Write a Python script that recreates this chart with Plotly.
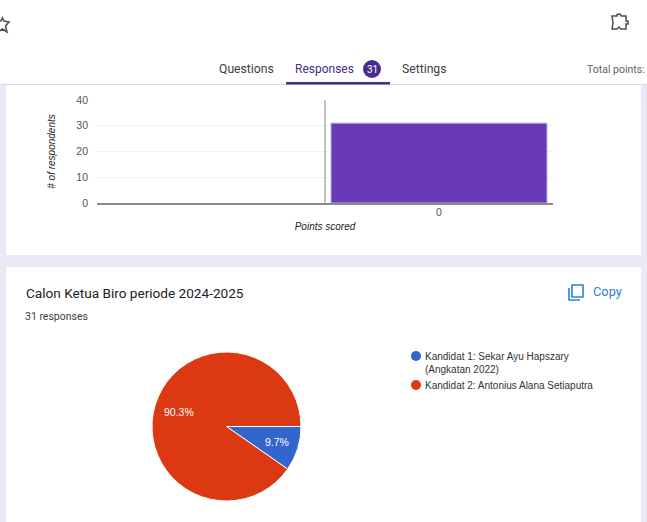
import plotly.graph_objects as go

W, H = 647, 522

# Data
bar_categories = [0]
bar_values = [31]
y_ticks = [0, 10, 20, 30, 40]
pie_labels = ["Kandidat 1: Sekar Ayu Hapszary (Angkatan 2022)", "Kandidat 2: Antonius Alana Setiaputra"]
pie_values = [3, 28]
pie_colors = ["#3366cc", "#dc3912"]


def px(x):
    return x / W


def py(y):
    return 1 - y / H


def path(points, close=True):
    s = "M " + " L ".join(f"{px(x):.5f},{py(y):.5f}" for x, y in points)
    return s + (" Z" if close else "")


fig = go.Figure()
fig.add_trace(go.Bar(x=bar_categories, y=bar_values, width=0.947, marker=dict(color="#673ab7", line=dict(color="#b9a3e0", width=1)),
                     showlegend=False, hoverinfo="skip"))
fig.add_trace(go.Pie(labels=pie_labels, values=pie_values, sort=False, direction="clockwise", rotation=90,
                     marker=dict(colors=pie_colors, line=dict(color="white", width=1)),
                     textinfo="none",
                     domain=dict(x=[px(152), px(301)], y=[py(501), py(352)]), showlegend=False, hoverinfo="skip"))

shapes = []


def rect(x0, y0, x1, y1, color, layer="below"):
    shapes.append(dict(type="rect", xref="paper", yref="paper", x0=px(x0), x1=px(x1), y0=py(y0), y1=py(y1),
                       fillcolor=color, line_width=0, layer=layer))


def circle(cx, cy, r, color, layer="above"):
    shapes.append(dict(type="circle", xref="paper", yref="paper", x0=px(cx - r), x1=px(cx + r), y0=py(cy - r), y1=py(cy + r),
                       fillcolor=color, line_width=0, layer=layer))


def poly(points, color, width=1.5, close=True, fill=None):
    shapes.append(dict(type="path", xref="paper", yref="paper", path=path(points, close),
                       line=dict(color=color, width=width), fillcolor=fill or "rgba(0,0,0,0)", layer="above"))


LAV = "#ece9f7"
rect(0, 85, W, H, LAV)
rect(6, 85, 641, 255, "white")
rect(6, 267, 641, H, "white")
rect(0, 84, W, 85, "#dadce0")
rect(286, 82, 390, 84.5, "#4a2a8c", "above")
circle(372, 69, 9, "#4a2a8c")
circle(416, 356, 5, pie_colors[0])
circle(416, 385, 5, pie_colors[1])
# axis lines
shapes.append(dict(type="line", xref="x", yref="y", x0=-0.5, x1=-0.5, y0=0, y1=40, line=dict(color="#8a8a8a", width=1), layer="above"))
# star
poly([(-4, 21), (1, 21), (2.5, 18), (4, 21), (9, 22), (5.5, 26), (7, 32), (2.5, 29), (-2, 32)], "#4a4d52")
# puzzle icon
poly([(612, 16), (617, 16), (617, 14.5), (620, 14), (621, 16), (626, 16), (626, 21), (628, 21), (628, 24), (626, 24), (626, 29),
      (621, 29), (619, 27), (617, 29), (612, 29), (613, 23), (612, 16)], "#4a4d52")
# copy icon
poly([(572, 285), (583, 285), (583, 297), (572, 297)], "#2f7de1", 1.6)
poly([(569, 288), (569, 300), (580, 300)], "#2f7de1", 1.6, close=False)

annotations = []


def text(x, y, s, size=11, color="#202124", family="Roboto", anchor="left", italic=False, angle=0):
    annotations.append(dict(xref="paper", yref="paper", x=px(x), y=py(y), text=s, showarrow=False, xanchor=anchor, yanchor="middle",
                            borderpad=0, borderwidth=0,
                            font=dict(family=family, size=size, color=color, style="italic" if italic else "normal"),
                            textangle=angle, align="left"))


text(219, 69, "Questions", 12.2, "#3c4043")
text(295, 69, "Responses", 12, "#4a2a8c")
text(372, 69, "31", 10, "white", anchor="center")
text(402, 69, "Settings", 12.2, "#3c4043")
text(587, 69, "Total points:", 10.5, "#5f6368")
text(26, 293, "Calon Ketua Biro periode 2024-2025", 13.6, "#202124")
text(25, 316, "31 responses", 10.5, "#3c4043")
text(593, 291, "Copy", 12.8, "#2f7de1")
text(425, 363, "Kandidat 1: Sekar Ayu Hapszary<br>(Angkatan 2022)", 10, "#333333", "Liberation Sans")
text(425, 385, "Kandidat 2: Antonius Alana Setiaputra", 10, "#333333", "Liberation Sans")
total = sum(pie_values)
text(179, 412, f"{pie_values[1] / total:.1%}", 10.5, "white", "Liberation Sans", "center")
text(277, 442, f"{pie_values[0] / total:.1%}", 10.5, "white", "Liberation Sans", "center")

fig.update_layout(
    width=W, height=H, autosize=False, margin=dict(l=0, r=0, t=0, b=0, autoexpand=False), paper_bgcolor="white", plot_bgcolor="rgba(0,0,0,0)",
    shapes=shapes, annotations=annotations,
    xaxis=dict(domain=[px(97), px(553)], range=[-1.5, 0.5], tickmode="array", tickvals=bar_categories, ticktext=["0"], ticks="",
               showgrid=False, zeroline=False, showline=True, linecolor="#8a8a8a", linewidth=2, ticklabelstandoff=-2,
               tickfont=dict(family="Liberation Sans", size=10.5, color="#555555"),
               title=dict(text="Points scored", standoff=6, font=dict(family="Liberation Sans", size=10, color="#222222", style="italic"))),
    yaxis=dict(domain=[py(203), py(100)], range=[0, 40], tickmode="array", tickvals=y_ticks, ticks="", showgrid=True, gridcolor="#f1f1f1",
               gridwidth=1, zeroline=False, showline=False, ticklabelstandoff=8,
               tickfont=dict(family="Liberation Sans", size=10.5, color="#555555"),
               title=dict(text="# of respondents", standoff=18, font=dict(family="Liberation Sans", size=10, color="#222222", style="italic"))),
)

fig.write_html("out.html", config={"displayModeBar": False},
               post_script="document.body.style.margin='0';document.body.style.overflow='hidden';")
